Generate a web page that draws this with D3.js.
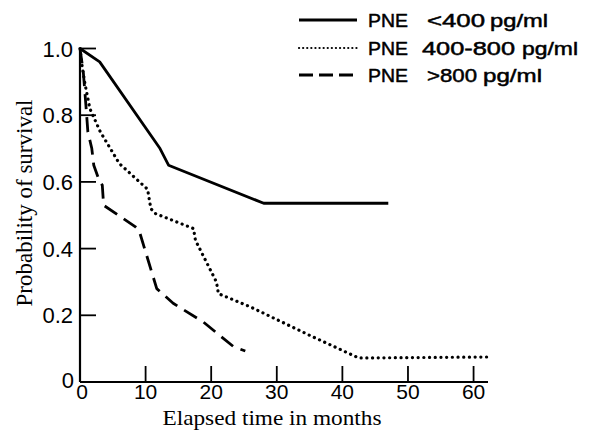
<!DOCTYPE html>
<html><head><meta charset="utf-8">
<script src="https://cdn.jsdelivr.net/npm/d3@7"></script>
<style>html,body{margin:0;padding:0;background:#fff;}svg{display:block;}</style>
</head><body>
<script>
const xTicks = [0, 10, 20, 30, 40, 50, 60];
const yTicks = [0, 0.2, 0.4, 0.6, 0.8, 1.0];
const yTickLabels = ["0", "0.2", "0.4", "0.6", "0.8", "1.0"];
const legendParts = [["PNE", "<400", "pg/ml"], ["PNE", "400-800", "pg/ml"], ["PNE", ">800", "pg/ml"]];
const lowMonths = [0, 3, 12.2, 13.5, 28, 47];
const lowSurv = [1, 0.96, 0.70, 0.65, 0.536, 0.536];
const midMonths = [0, 0.3, 0.7, 1.5, 3.1, 6, 10.3, 10.8, 11.5, 17.3, 17.6, 20.8, 21.1, 26, 35, 42.5, 62.2];
const midSurv = [1, 0.95, 0.9, 0.82, 0.75, 0.655, 0.578, 0.52, 0.505, 0.46, 0.425, 0.30, 0.265, 0.225, 0.14, 0.072, 0.075];
const highMonths = [0, 0.5, 0.9, 1.2, 1.8, 2.1, 3.0, 3.4, 3.6, 8.4, 9, 11.7, 14.2, 18.8, 23.4, 25.2];
const highSurv = [1, 0.93, 0.83, 0.75, 0.70, 0.65, 0.60, 0.59, 0.53, 0.466, 0.455, 0.28, 0.236, 0.18, 0.106, 0.093];

const W = 592, H = 431;
const svg = d3.select("body").append("svg").attr("width", W).attr("height", H);
const x = d3.scaleLinear().domain([0, 62.2]).range([80, 488]);
const y = d3.scaleLinear().domain([0, 1]).range([382, 48.5]);
const sans = "'Liberation Sans', Arial, sans-serif";
const serif = "'Liberation Serif', 'Times New Roman', serif";

// axes lines
svg.append("line").attr("x1", x(0)).attr("x2", x(62.2)).attr("y1", y(0)).attr("y2", y(0))
  .attr("stroke", "#000").attr("stroke-width", 2.2);
svg.append("line").attr("x1", x(0)).attr("x2", x(0)).attr("y1", y(0)).attr("y2", y(1))
  .attr("stroke", "#000").attr("stroke-width", 2.2);

// x ticks (inward, upward)
svg.selectAll(".xt").data(xTicks.filter(d => d > 0)).enter().append("line")
  .attr("x1", d => x(d)).attr("x2", d => x(d)).attr("y1", y(0)).attr("y2", y(0) - 16)
  .attr("stroke", "#000").attr("stroke-width", 1.8);
svg.selectAll(".xl").data(xTicks).enter().append("text")
  .attr("x", d => x(d) + (d === 0 ? 2 : 0)).attr("y", 399).attr("text-anchor", "middle")
  .attr("font-family", sans).attr("font-size", 21).text(d => d);

// y ticks (inward, rightward)
svg.selectAll(".yt").data(yTicks.filter(d => d > 0)).enter().append("line")
  .attr("x1", x(0)).attr("x2", x(0) + 16).attr("y1", d => y(d)).attr("y2", d => y(d))
  .attr("stroke", "#000").attr("stroke-width", 1.8);
svg.selectAll(".yl").data(yTicks).enter().append("text")
  .attr("x", (d, i) => i === 0 ? 74 : 73).attr("y", (d, i) => y(d) + (i === 0 ? 6 : 8)).attr("text-anchor", "end")
  .attr("font-family", sans).attr("font-size", 22).text((d, i) => yTickLabels[i]);

// axis titles
svg.append("text").attr("x", 272).attr("y", 424.5).attr("text-anchor", "middle")
  .attr("font-family", serif).attr("font-size", 22).attr("textLength", 219).attr("lengthAdjust", "spacingAndGlyphs")
  .text("Elapsed time in months");
svg.append("text").attr("transform", "translate(32,203) rotate(-90)").attr("text-anchor", "middle")
  .attr("font-family", serif).attr("font-size", 23).text("Probability of survival");

// curves
const line = d3.line().x(d => x(d[0])).y(d => y(d[1]));
const styles = [
  { dash: null, cap: "butt", w: 2.8 },
  { dash: "0.1 5.6", cap: "round", w: 3.2 },
  { dash: "15 8", cap: "butt", w: 2.8 }
];
const data = [d3.zip(lowMonths, lowSurv), d3.zip(midMonths, midSurv), d3.zip(highMonths, highSurv)];
data.forEach((pts, i) => {
  const p = svg.append("path").datum(pts).attr("d", line).attr("fill", "none")
    .attr("stroke", "#000").attr("stroke-width", styles[i].w).attr("stroke-linecap", styles[i].cap)
    .attr("stroke-linejoin", "round");
  if (styles[i].dash) p.attr("stroke-dasharray", styles[i].dash);
});

// legend
const legY = [27, 55, 82];
const legStyles = [
  { dash: null, cap: "butt", w: 2.8 },
  { dash: "0.1 4", cap: "round", w: 2.2 },
  { dash: "14 6", cap: "butt", w: 2.8 }
];
const partX = [[368, 427, 490], [368, 422, 522], [368, 427, 483]];
const partW = [[40, 58, 58], [40, 93, 56], [40, 50, 59]];
legendParts.forEach((parts, i) => {
  const l = svg.append("line").attr("x1", 299).attr("x2", 357).attr("y1", legY[i] - 7).attr("y2", legY[i] - 7)
    .attr("stroke", "#000").attr("stroke-width", legStyles[i].w).attr("stroke-linecap", legStyles[i].cap);
  if (legStyles[i].dash) l.attr("stroke-dasharray", legStyles[i].dash);
  parts.forEach((t, j) => {
    svg.append("text").attr("x", partX[i][j]).attr("y", legY[i])
      .attr("font-family", sans).attr("font-size", 19)
      .attr("stroke", "#000").attr("stroke-width", 0.5)
      .attr("textLength", partW[i][j]).attr("lengthAdjust", "spacingAndGlyphs").text(t);
  });
});
</script>
</body></html>
